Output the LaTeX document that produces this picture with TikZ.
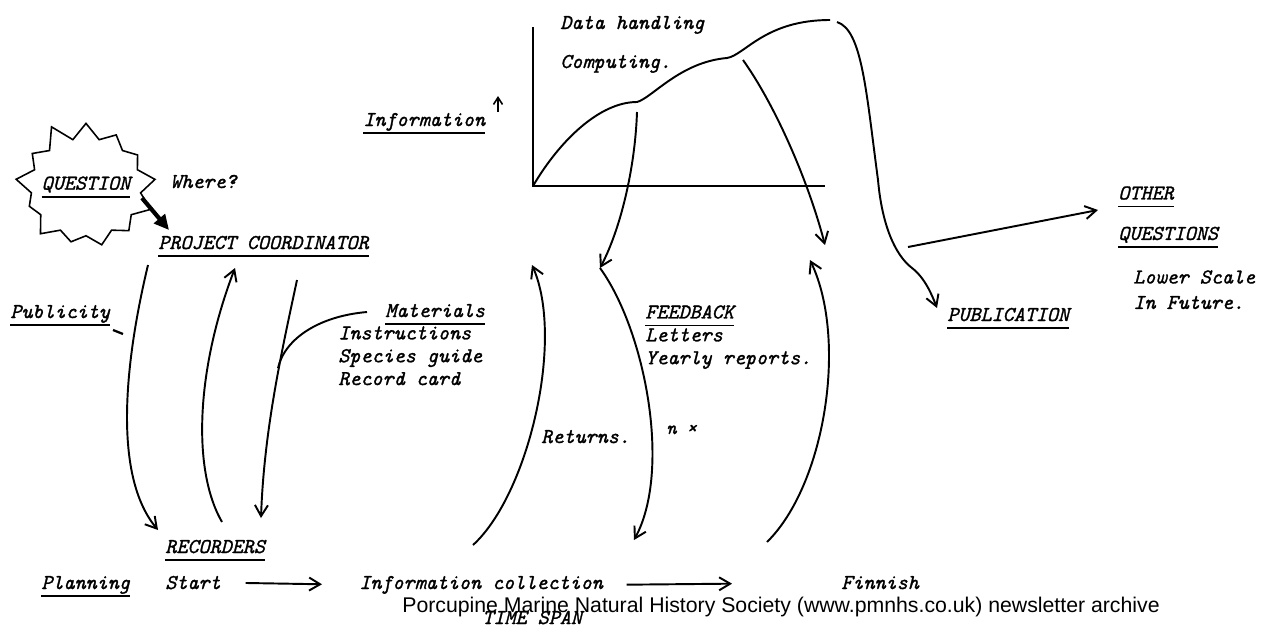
\documentclass[tikz,border=0pt]{standalone}
\usepackage{fontspec}
\newfontfamily\archivefont{Liberation Sans}
\newfontfamily\typer{lmmono10-italic.otf}[FakeBold=1.3]
\usepackage{tikz}
\usetikzlibrary{arrows.meta,shapes.symbols}
\newcommand{\ulin}[1]{\setbox0\hbox{#1}\rlap{\rule[-4.5pt]{\wd0}{0.9pt}}\box0}

\begin{document}
\begin{tikzpicture}[
        x=0.02cm, y=-0.02cm,
        txt/.style={
            font=\fontsize{12}{13}\selectfont\typer,
            inner sep=0pt,
            anchor=base west,
            align=left
        },
        burst/.style={
            starburst,
            starburst points=13,
            starburst point height=0.4cm,
            random starburst=11,
            draw,
            line width=0.9pt,
            minimum width=3.0cm,
            minimum height=2.75cm,
            inner sep=0pt,
            font=\fontsize{12}{13}\selectfont\typer
        },
        line/.style={-{Straight Barb[length=2.2mm,width=2.6mm]},line width=1.1pt},
        heavy/.style={-{Triangle[length=3mm,width=2.8mm]},line width=2.4pt}
    ]
        \useasboundingbox (0,0) rectangle (1271,626);

        \node[burst] (question) at (86,187) {\makebox[0pt]{\ulin{QUESTION}}};
        \node[txt] (where) at (170,188) {Where?};
        \node[txt] (coord) at (158,249) {\ulin{PROJECT COORDINATOR}};
        \node[txt] (publicity) at (10,318) {\ulin{Publicity}};
        \node[txt] (materials) at (385,317) {\ulin{Materials}};
        \node[txt, anchor=north west] (mlist) at (338,326) {Instructions\\Species guide\\Record card};
        \node[txt] (info) at (363,126) {\ulin{Information}};
        \node[txt] (datah) at (560,29) {Data handling};
        \node[txt] (comp) at (560,68) {Computing.};
        \node[txt, anchor=north west] (fback) at (645,305) {\ulin{FEEDBACK}\\Letters\\Yearly reports.};
        \node[txt, anchor=north west] (other) at (1118,186) {\ulin{OTHER}\\[10pt]\ulin{QUESTIONS}};
        \node[txt, anchor=north west] (lower) at (1133,270) {Lower Scale\\[1.5pt]In Future.};
        \node[txt] (publ) at (947,321) {\ulin{PUBLICATION}};
        \node[txt] (returns) at (541,443) {Returns.};
        \node[txt, font=\fontsize{11}{12}\selectfont\typer] (ntimes) at (666,434) {n ×};
        \node[txt] (recorders) at (165,553) {\ulin{RECORDERS}};
        \node[txt] (planning) at (41,589) {\ulin{Planning}};
        \node[txt] (start) at (165,589) {Start};
        \node[txt] (infocol) at (359,589) {Information collection};
        \node[txt] (finnish) at (841,589) {Finnish};
        \node[txt] (timespan) at (482,624) {TIME SPAN};
        \node[txt, font=\fontsize{12.1}{14}\selectfont\archivefont] (archive) at (402,612)
            {Porcupine Marine Natural History Society (www.pmnhs.co.uk) newsletter archive};

        \coordinate (qtail) at (142,198);
        \coordinate (qtip) at (169,230);
        \coordinate (pubtop) at (148,265);
        \coordinate (pubend) at (158,530);
        \coordinate (recbot) at (222,522);
        \coordinate (coordbot) at (235,268);
        \coordinate (mattop) at (297,280);
        \coordinate (matend) at (261,518);
        \coordinate (matstart) at (367,312);
        \coordinate (matjoin) at (278,368);
        \coordinate (infotip) at (498,96);
        \coordinate (infotail) at (498,112);
        \coordinate (orig) at (533,186);
        \coordinate (ytop) at (533,27);
        \coordinate (xend) at (825,186);
        \coordinate (peak) at (830,20);
        \coordinate (fbtop) at (637,112);
        \coordinate (fbmid) at (600,268);
        \coordinate (fbbot) at (634,540);
        \coordinate (fbtwo) at (743,60);
        \coordinate (fbtwoend) at (825,245);
        \coordinate (retbot) at (473,545);
        \coordinate (rettop) at (532,265);
        \coordinate (finbot) at (767,542);
        \coordinate (fintop) at (810,260);
        \coordinate (pubstart) at (837,22);
        \coordinate (pubtip) at (937,308);
        \coordinate (otail) at (908,247);
        \coordinate (otip) at (1098,210);

        \draw[heavy] (qtail) -- (qtip);
        \draw[line] (pubtop) .. controls (130,340) and (108,470) .. (pubend);
        \draw[line width=1.3pt] (113,330) -- (123,334);
        \draw[line] (recbot) .. controls (192,470) and (196,370) .. (coordbot);
        \draw[line] (mattop) .. controls (282,350) and (264,430) .. (matend);
        \draw[line width=1.1pt] (matstart) .. controls (320,316) and (285,338) .. (matjoin);

        \draw[-{Straight Barb[length=1.4mm,width=1.8mm]},line width=0.9pt] (infotail) -- (infotip);
        \draw[line width=1.1pt] (ytop) -- (orig) -- (xend);
        \draw[line width=1.1pt] (orig) .. controls (560,140) and (600,102) .. (637,102)
            .. controls (652,98) and (680,62) .. (727,58)
            .. controls (745,55) and (765,20) .. (peak);

        \draw[line] (fbtop) .. controls (635,170) and (620,230) .. (fbmid);
        \draw[line] (fbmid) .. controls (645,330) and (672,470) .. (fbbot);
        \draw[line] (fbtwo) .. controls (775,105) and (808,180) .. (fbtwoend);
        \draw[line] (retbot) .. controls (528,495) and (565,340) .. (rettop);
        \draw[line] (finbot) .. controls (825,485) and (848,340) .. (fintop);
        \draw[line] (pubstart) .. controls (862,30) and (866,90) .. (878,180)
            .. controls (882,225) and (895,255) .. (912,268)
            .. controls (925,278) and (932,295) .. (pubtip);
        \draw[line] (otail) -- (otip);

        \draw[line, shorten <=0.49cm, shorten >=0.74cm] (start.east) -- (infocol.west);
        \draw[line, shorten <=0.47cm, shorten >=2.18cm] (infocol.east) -- (finnish.west);
    \end{tikzpicture}
\end{document}
